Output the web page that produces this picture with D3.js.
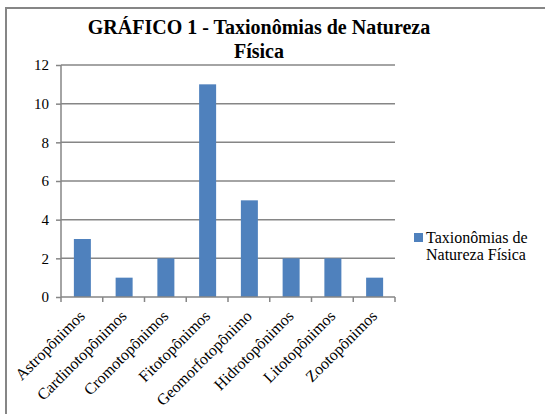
<!DOCTYPE html>
<html>
<head>
<meta charset="utf-8">
<script src="https://cdn.jsdelivr.net/npm/d3@7"></script>
</head>
<body style="margin:0; background:#fff">
<svg id="chart"></svg>
<script>
var width = 545;
var height = 414;

var categories = ["Astropônimos", "Cardinotopônimos", "Cromotopônimos", "Fitotopônimos",
    "Geomorfotopônimo", "Hidrotopônimos", "Litotopônimos", "Zootopônimos"];
var values = [3, 1, 2, 11, 5, 2, 2, 1];
var yTicks = [0, 2, 4, 6, 8, 10, 12];
var seriesName = ["Taxionômias de", "Natureza Física"];

var fontName = "Times New Roman";

var svg = d3.select("#chart")
    .attr("width", width)
    .attr("height", height);

// outer frame (only top and left edges show)
svg.append("rect")
    .attr("x", 6).attr("y", 8)
    .attr("width", 600).attr("height", 500)
    .attr("fill", "#fff")
    .attr("stroke", "#868686")
    .attr("stroke-width", 2);

// title
svg.append("text")
    .attr("x", 259).attr("y", 34)
    .attr("text-anchor", "middle")
    .attr("font-family", fontName)
    .attr("font-size", 20).attr("font-weight", "bold")
    .text("GRÁFICO 1 - Taxionômias de Natureza");
svg.append("text")
    .attr("x", 259).attr("y", 58)
    .attr("text-anchor", "middle")
    .attr("font-family", fontName)
    .attr("font-size", 20).attr("font-weight", "bold")
    .text("Física");

var plot = {l: 61, r: 395, t: 65, b: 297};

var xScale = d3.scaleBand().domain(categories).range([plot.l, plot.r]);
var yScale = d3.scaleLinear().domain([0, 12]).range([plot.b, plot.t]);

// gridlines
svg.append("g")
    .selectAll("line")
    .data(yTicks.slice(1))
    .enter()
    .append("line")
    .attr("x1", plot.l).attr("x2", plot.r)
    .attr("y1", function(d) { return yScale(d); })
    .attr("y2", function(d) { return yScale(d); })
    .attr("stroke", "#868686")
    .attr("stroke-width", 1.5);

// bars
var barW = 17;
svg.append("g")
    .selectAll("rect")
    .data(values)
    .enter()
    .append("rect")
    .attr("x", function(d, i) { return xScale(categories[i]) + xScale.bandwidth() / 2 - barW / 2 + 0.5; })
    .attr("y", function(d) { return yScale(d); })
    .attr("width", barW)
    .attr("height", function(d) { return plot.b - yScale(d); })
    .attr("fill", "#4f81bd");

// y axis
var yAxis = d3.axisLeft(yScale).tickValues(yTicks).tickSize(5).tickPadding(7).tickFormat(d3.format("d"));
var gy = svg.append("g")
    .attr("transform", "translate(" + plot.l + ",0)")
    .call(yAxis);
gy.attr("font-family", fontName).attr("font-size", 15);
gy.select(".domain").remove();
gy.selectAll("line").attr("stroke", "#868686").attr("stroke-width", 1.5);
gy.selectAll("text")
    .attr("fill", "#000")
    .attr("font-family", fontName)
    .attr("font-size", 15);
svg.append("line")
    .attr("x1", plot.l).attr("x2", plot.l)
    .attr("y1", plot.t).attr("y2", plot.b)
    .attr("stroke", "#868686").attr("stroke-width", 1.5);

// x axis: ticks at category boundaries
var bounds = categories.map(function(c) { return xScale(c); }).concat([plot.r]);
svg.append("g")
    .selectAll("line")
    .data(bounds)
    .enter()
    .append("line")
    .attr("x1", function(d) { return d; }).attr("x2", function(d) { return d; })
    .attr("y1", plot.b).attr("y2", plot.b + 5)
    .attr("stroke", "#868686").attr("stroke-width", 1.5);
svg.append("line")
    .attr("x1", plot.l).attr("x2", plot.r)
    .attr("y1", plot.b).attr("y2", plot.b)
    .attr("stroke", "#868686").attr("stroke-width", 1.5);

// x labels, rotated
svg.append("g")
    .selectAll("text")
    .data(categories)
    .enter()
    .append("text")
    .attr("transform", function(d) {
        var x = xScale(d) + xScale.bandwidth() / 2 + 4;
        return "translate(" + x + "," + (plot.b + 20) + ") rotate(-45)";
    })
    .attr("text-anchor", "end")
    .attr("font-family", fontName)
    .attr("font-size", 16)
    .text(function(d) { return d; });

// legend
svg.append("rect")
    .attr("x", 414).attr("y", 233)
    .attr("width", 9).attr("height", 9)
    .attr("fill", "#4f81bd");
svg.append("g")
    .selectAll("text")
    .data(seriesName)
    .enter()
    .append("text")
    .attr("x", 426)
    .attr("y", function(d, i) { return 243 + i * 17; })
    .attr("font-family", fontName)
    .attr("font-size", 16)
    .text(function(d) { return d; });
</script>
</body>
</html>
